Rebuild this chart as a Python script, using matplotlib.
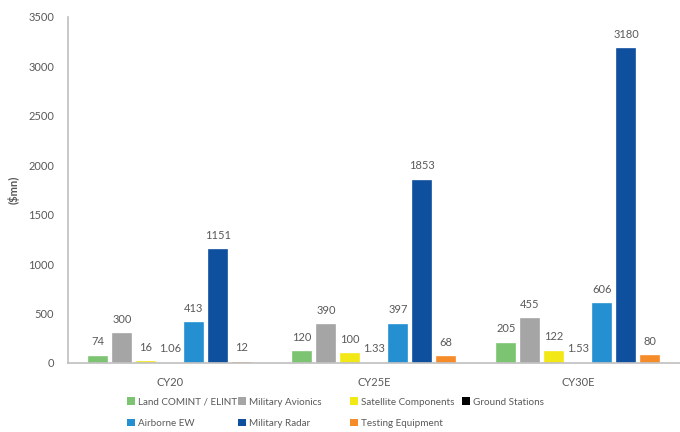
import matplotlib
matplotlib.use("Agg")
import matplotlib.pyplot as plt
from matplotlib.patches import Patch
import numpy as np

plt.rcParams['font.family'] = ['Lato', 'DejaVu Sans']

categories = ["CY20", "CY25E", "CY30E"]
series_names = ["Land COMINT / ELINT", "Military Avionics", "Satellite Components",
                "Ground Stations", "Airborne EW", "Military Radar", "Testing Equipment"]
land = [74, 120, 205]
avionics = [300, 390, 455]
satellite = [16, 100, 122]
ground = [1.06, 1.33, 1.53]
airborne = [413, 397, 606]
radar = [1151, 1853, 3180]
testing = [12, 68, 80]
label_text = [["74", "120", "205"], ["300", "390", "455"], ["16", "100", "122"],
              ["1.06", "1.33", "1.53"], ["413", "397", "606"], ["1151", "1853", "3180"],
              ["12", "68", "80"]]
series = [land, avionics, satellite, ground, airborne, radar, testing]
colors = ["#7DC472", "#A5A5A5", "#F2E816", "#000000", "#2590D1", "#0E4F9E", "#F68B2A"]

txt = "#595959"
fig = plt.figure(figsize=(6.8, 4.32), dpi=100)
ax = fig.add_axes([0.1, 0.16, 0.9, 0.801])

x = np.arange(len(categories))
pitch = 0.1176
width = 0.098
for i, (vals, c) in enumerate(zip(series, colors)):
    pos = x + (i - 3) * pitch
    bars = ax.bar(pos, vals, width, color=c, edgecolor="#FFFFFF", linewidth=0.25, label=series_names[i])
    for b, lab in zip(bars, label_text[i]):
        ax.annotate(lab, (b.get_x() + b.get_width() / 2, b.get_height()),
                    xytext=(0, 6), textcoords="offset points", ha="center", va="bottom",
                    fontsize=8, color=txt)

ax.set_xlim(-0.5, 2.5)
ax.set_ylim(0, 3500)
ax.set_yticks(np.arange(0, 3501, 500))
ax.set_xticks(x)
ax.set_xticklabels(categories)
ax.tick_params(axis="both", length=0, labelsize=8, labelcolor=txt)
ax.tick_params(axis="x", pad=10)
ax.tick_params(axis="y", pad=10)
for s in ["top", "right"]:
    ax.spines[s].set_visible(False)
for s in ["left", "bottom"]:
    ax.spines[s].set_color("#BFBFBF")
    ax.spines[s].set_linewidth(1.2)
ax.set_ylabel("($mn)", fontsize=8, fontweight="bold", color=txt, labelpad=6)

handles = [Patch(facecolor=c, edgecolor="none") for c in colors]
cols = [[0, 4], [1, 5], [2, 6], [3]]
col_x = [127, 238, 350, 462]
for idxs, cx in zip(cols, col_x):
    fig.legend([handles[i] for i in idxs], [series_names[i] for i in idxs],
               loc="upper left", bbox_to_anchor=(cx / 680, 0.080),
               frameon=False, fontsize=7.1, handlelength=0.85, handleheight=0.85,
               handletextpad=0.3, labelspacing=1.2, borderpad=0, borderaxespad=0,
               labelcolor=txt)

fig.savefig("out.png", dpi=100)
